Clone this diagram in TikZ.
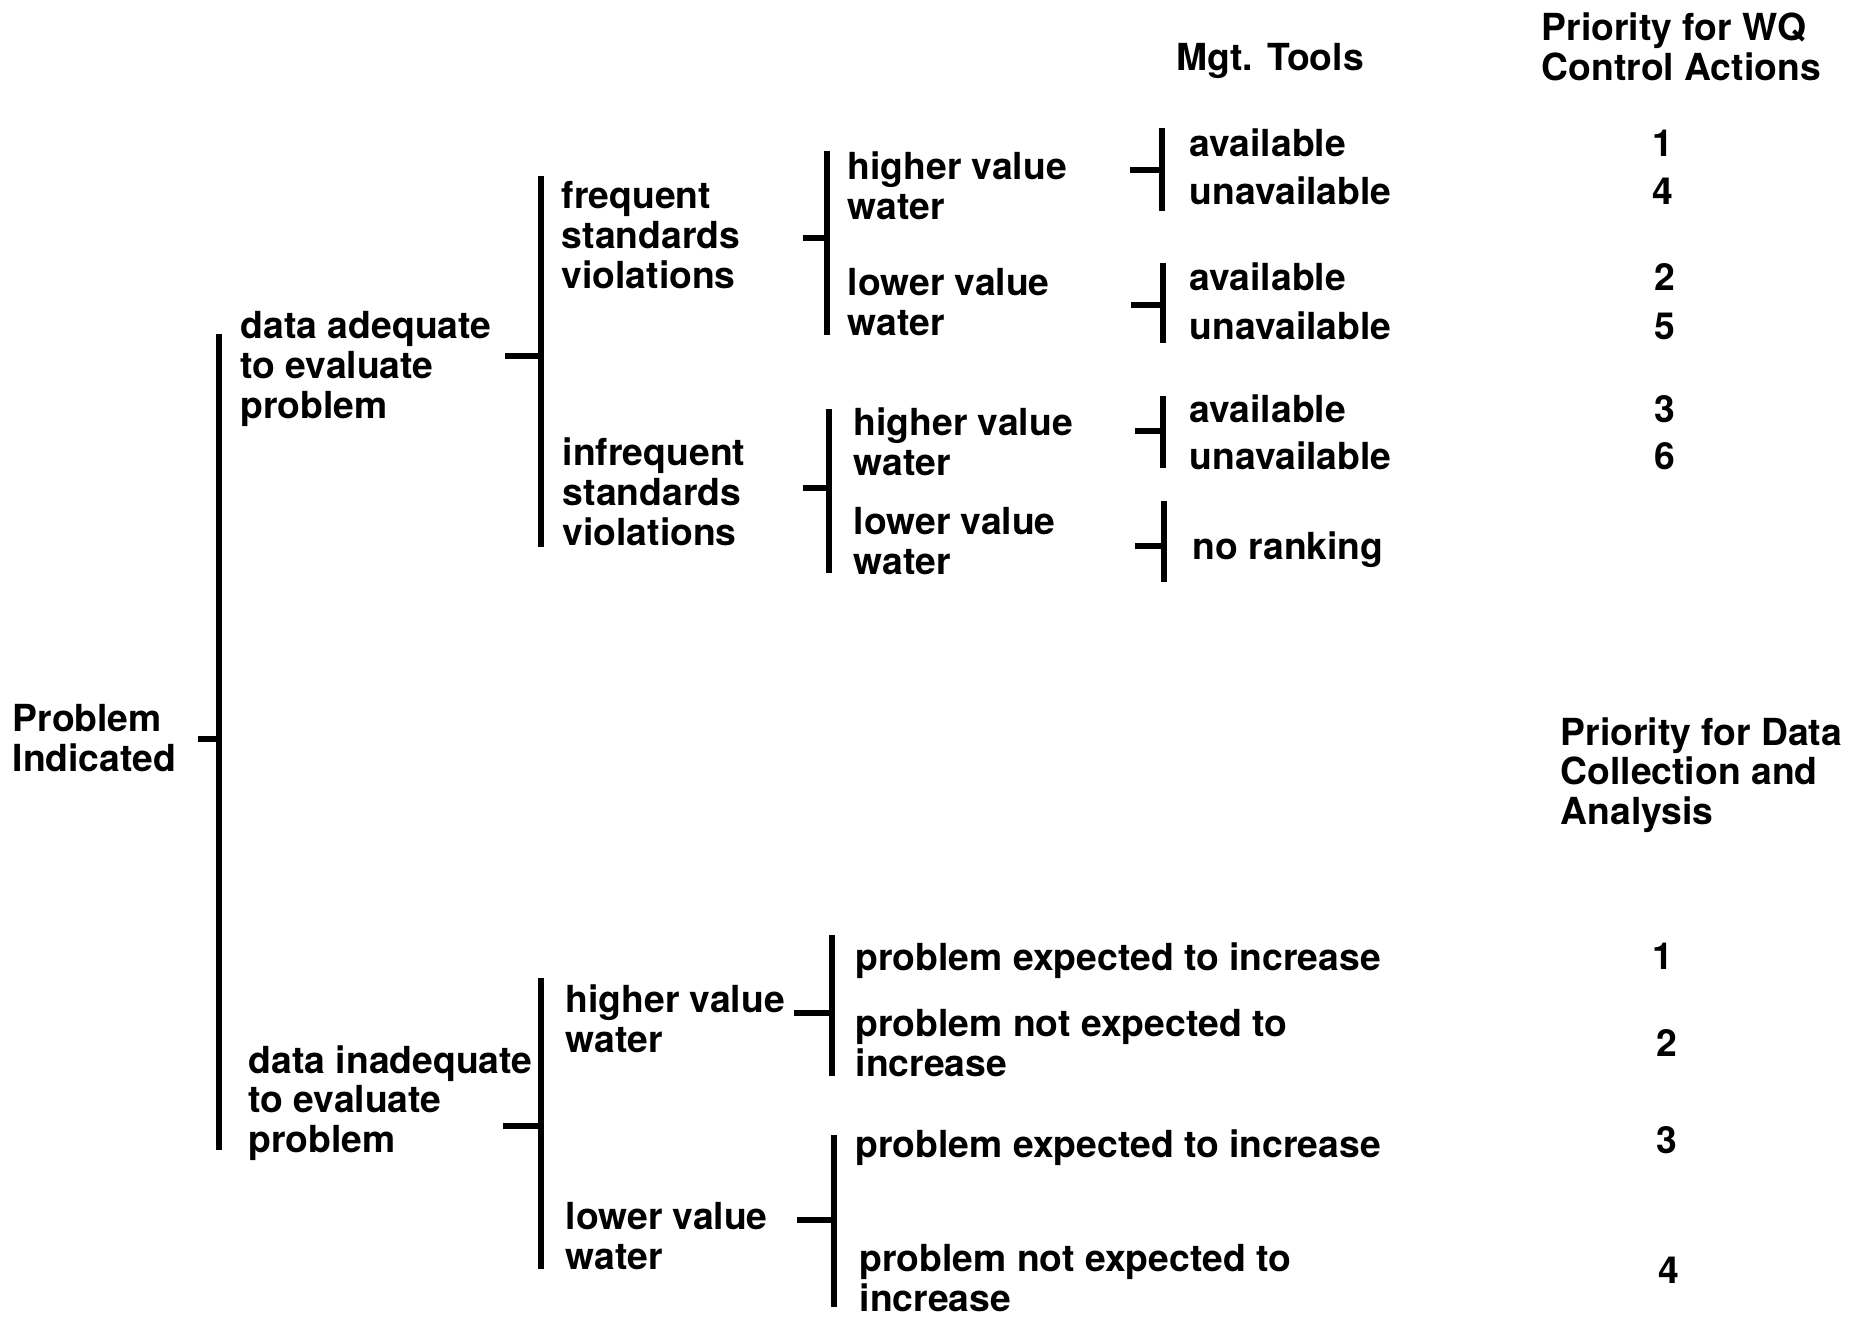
\documentclass[tikz,border=0pt]{standalone}
\usepackage{fontspec}
\setmainfont{TeX Gyre Heros}

\begin{document}
\begin{tikzpicture}[
  x=0.01cm, y=-0.01cm,
  every node/.style={
    font=\fontsize{10.6pt}{11.3pt}\selectfont\bfseries,
    inner sep=0pt, anchor=west, align=left
  },
  rank/.style={
    anchor=center
  },
  bar/.style={
    line width=1.5pt
  }
  ]
  \useasboundingbox (0,0) rectangle (1863,1318);

  \node (prob) at (12,738) {Problem\\Indicated};
  \node (adeq) at (240,369) {data adequate\\to evaluate\\problem};
  \node (inadeq) at (248,1103) {data inadequate\\to evaluate\\problem};

  \node (freq) at (561,235) {frequent\\standards\\violations};
  \node (infreq) at (562,492) {infrequent\\standards\\violations};
  \node (hvwc) at (565,1019) {higher value\\water};
  \node (lvwc) at (565,1236) {lower value\\water};

  \node (hvwa) at (847,186) {higher value\\water};
  \node (lvwa) at (847,302) {lower value\\water};
  \node (hvwb) at (853,442) {higher value\\water};
  \node (lvwb) at (853,541) {lower value\\water};

  \node (mgt) at (1176,61) {Mgt. Tools};
  \node (avla) at (1189,143) {available};
  \node (unva) at (1189,191) {unavailable};
  \node (avlb) at (1189,277) {available};
  \node (unvb) at (1189,326) {unavailable};
  \node (avlc) at (1189,409) {available};
  \node (unvc) at (1189,456) {unavailable};
  \node (norank) at (1192,550) {no ranking};

  \node (wqhead) at (1541,47) {Priority for WQ\\Control Actions};
  \node[rank] (wq1) at (1663,143) {1};
  \node[rank] (wq4) at (1663,191) {4};
  \node[rank] (wq2) at (1665,277) {2};
  \node[rank] (wq5) at (1665,326) {5};
  \node[rank] (wq3) at (1665,409) {3};
  \node[rank] (wq6) at (1665,456) {6};

  \node (pea) at (855,961) {problem expected to increase};
  \node (pna) at (855,1043) {problem not expected to\\increase};
  \node (peb) at (855,1148) {problem expected to increase};
  \node (pnb) at (859,1278) {problem not expected to\\increase};

  \node (dchead) at (1560,775) {Priority for Data\\Collection and\\Analysis};
  \node[rank] (dc1) at (1663,956) {1};
  \node[rank] (dc2) at (1667,1043) {2};
  \node[rank] (dc3) at (1667,1140) {3};
  \node[rank] (dc4) at (1669,1270) {4};

  \foreach \n/\x/\t/\b/\s/\l in {
    probB/219/334/1150/739/198,
    adeqB/541/176/547/356/505,
    inadeqB/541/978/1269/1126/503,
    freqB/827/151/335/238/803,
    infreqB/829/409/573/488/803,
    hvwcB/832/935/1076/1013/794,
    lvwcB/834/1135/1307/1220/797,
    hvwaB/1162/128/211/170/1130,
    lvwaB/1163/263/343/305/1131,
    hvwbB/1163/396/468/431/1135,
    lvwbB/1164/501/582/546/1135} {
    \coordinate (\n-top) at (\x,\t);
    \coordinate (\n-bot) at (\x,\b);
    \coordinate (\n-mid) at (\x,\s);
    \coordinate (\n-stub) at (\l,\s);
    \draw[bar] (\n-top) -- (\n-bot);
    \draw[bar] (\n-stub) -- (\n-mid);
  }
\end{tikzpicture}
\end{document}
